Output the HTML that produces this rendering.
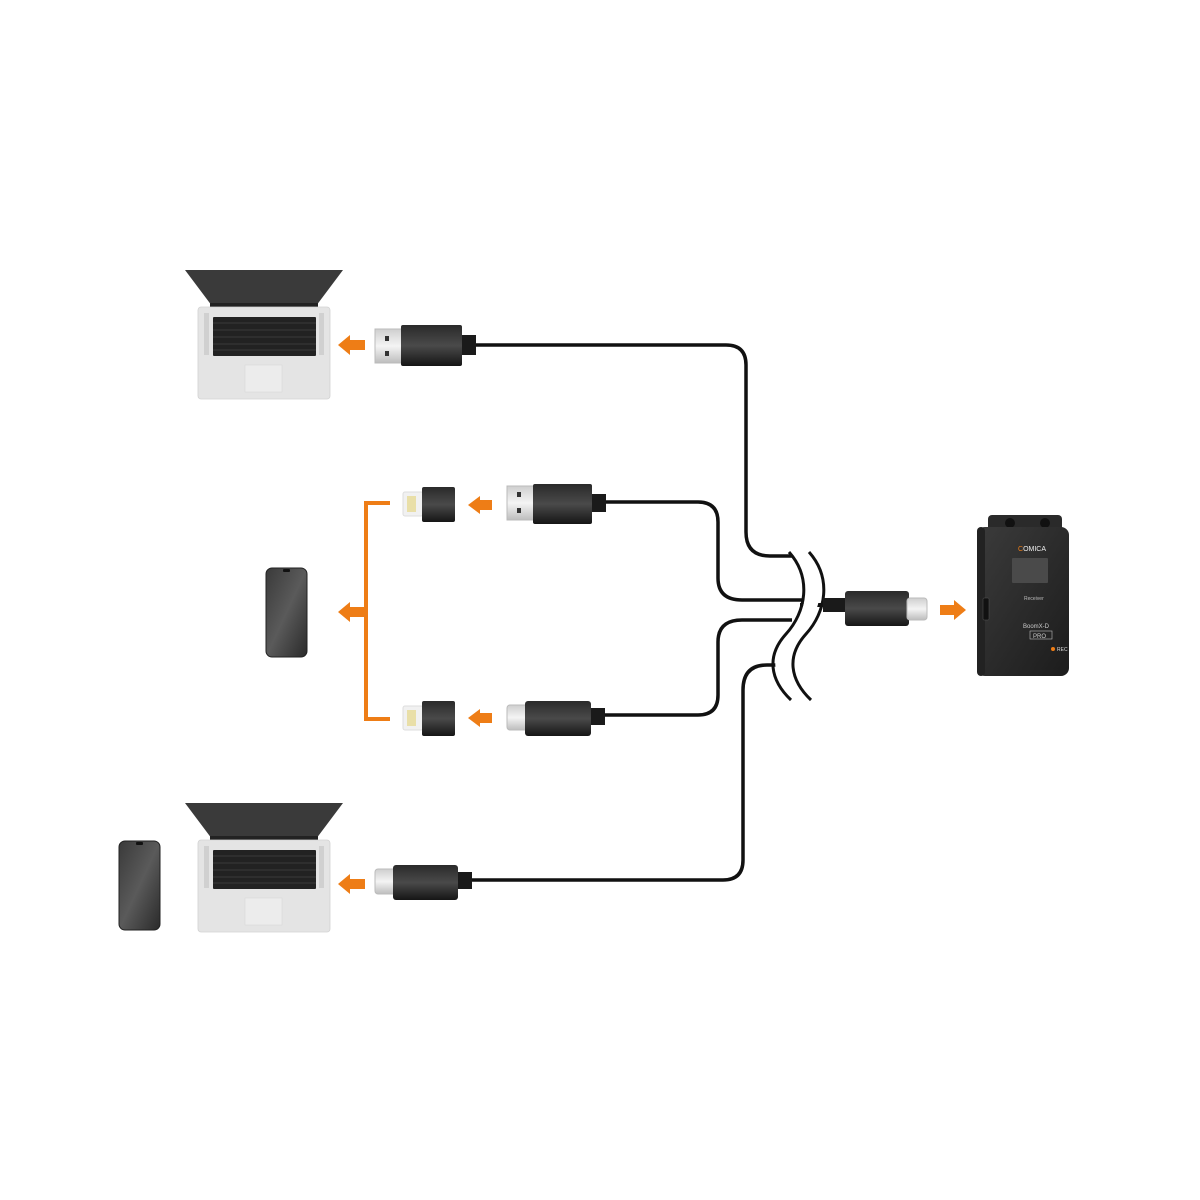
<!DOCTYPE html>
<html><head><meta charset="utf-8"><style>html,body{margin:0;padding:0;background:#fff}svg{display:block}</style></head>
<body>
<svg width="1200" height="1200" viewBox="0 0 1200 1200" xmlns="http://www.w3.org/2000/svg">
<defs>
<linearGradient id="blk" x1="0" y1="0" x2="0" y2="1"><stop offset="0" stop-color="#2a2a2a"/><stop offset=".5" stop-color="#4a4a4a"/><stop offset="1" stop-color="#151515"/></linearGradient>
<linearGradient id="met" x1="0" y1="0" x2="0" y2="1"><stop offset="0" stop-color="#cfcfcf"/><stop offset=".5" stop-color="#f4f4f4"/><stop offset="1" stop-color="#bdbdbd"/></linearGradient>
<linearGradient id="ph" x1="0" y1="0" x2="1" y2="1"><stop offset="0" stop-color="#3a3a3a"/><stop offset=".5" stop-color="#5a5a5a"/><stop offset="1" stop-color="#2a2a2a"/></linearGradient>
<linearGradient id="rcv" x1="0" y1="0" x2="1" y2="1"><stop offset="0" stop-color="#3b3b3b"/><stop offset="1" stop-color="#1c1c1c"/></linearGradient>
<g id="laptop">
  <path d="M185 0 L343 0 L316 36 L212 36 Z" fill="#3a3a3a"/>
  <rect x="210" y="33" width="108" height="4" fill="#222"/>
  <rect x="198" y="37" width="132" height="92" rx="3" fill="#e4e4e4" stroke="#d2d2d2" stroke-width=".8"/>
  <rect x="204" y="43" width="5" height="42" fill="#d0d0d0"/>
  <rect x="319" y="43" width="5" height="42" fill="#d0d0d0"/>
  <rect x="213" y="47" width="103" height="39" rx="1" fill="#222"/>
  <g stroke="#555" stroke-width=".6">
   <line x1="213" y1="53" x2="316" y2="53"/><line x1="213" y1="60" x2="316" y2="60"/><line x1="213" y1="67" x2="316" y2="67"/><line x1="213" y1="74" x2="316" y2="74"/><line x1="213" y1="80" x2="316" y2="80"/>
  </g>
  <rect x="245" y="95" width="37" height="27" fill="#ececec" stroke="#d6d6d6" stroke-width=".5"/>
</g>
<g id="phone">
  <rect x="0" y="0" width="41" height="89" rx="6" fill="url(#ph)" stroke="#222"/>
  <rect x="17" y="1" width="7" height="3" rx="1" fill="#111"/>
</g>
<g id="ltn">
  <rect x="403" y="5" width="20" height="24" rx="2" fill="#f1f1f1" stroke="#ddd"/>
  <rect x="407" y="9" width="9" height="16" fill="#e9dfa8"/>
  <rect x="422" y="0" width="33" height="35" rx="2" fill="url(#blk)"/>
</g>
</defs>

<g fill="none" stroke="#111" stroke-width="3.5">
  <path d="M470 345 H726 Q746 345 746 365 V532 Q746 556 770 556 H792"/>
  <path d="M600 502 H698 Q718 502 718 522 V578 Q718 600 742 600 H802"/>
  <path d="M600 715 H698 Q718 715 718 695 V642 Q718 620 742 620 H792"/>
  <path d="M468 880 H723 Q743 880 743 860 V690 Q743 665 767 665 H780"/>
  <path d="M800 605 H840" stroke-width="4"/>
</g>
<g fill="none" stroke="#fff" stroke-width="14">
  <path d="M799 548 C822 575 815 610 795 632 C775 655 780 680 800 700"/>
</g>
<g fill="none" stroke="#111" stroke-width="3">
  <path d="M789 552 C812 578 806 612 786 634 C766 656 770 680 791 700"/>
  <path d="M809 552 C832 578 826 612 806 634 C786 656 790 680 811 700"/>
</g>

<use href="#laptop" transform="translate(0,270)"/>
<use href="#laptop" transform="translate(0,803)"/>

<use href="#phone" transform="translate(266,568)"/>
<use href="#phone" transform="translate(119,841)"/>

<rect x="375" y="329" width="29" height="34" fill="url(#met)" stroke="#bbb"/>
<rect x="385" y="336" width="4" height="5" fill="#333"/><rect x="385" y="351" width="4" height="5" fill="#333"/>
<rect x="401" y="325" width="61" height="41" rx="2" fill="url(#blk)"/>
<rect x="462" y="335" width="14" height="20" fill="#1a1a1a"/>

<rect x="507" y="486" width="28" height="34" fill="url(#met)" stroke="#bbb"/>
<rect x="517" y="492" width="4" height="5" fill="#333"/><rect x="517" y="508" width="4" height="5" fill="#333"/>
<rect x="533" y="484" width="59" height="40" rx="2" fill="url(#blk)"/>
<rect x="592" y="494" width="14" height="18" fill="#1a1a1a"/>

<rect x="507" y="705" width="22" height="25" rx="3" fill="url(#met)" stroke="#bbb"/>
<rect x="525" y="701" width="66" height="35" rx="3" fill="url(#blk)"/>
<rect x="591" y="708" width="14" height="17" fill="#1a1a1a"/>

<rect x="375" y="869" width="22" height="25" rx="3" fill="url(#met)" stroke="#bbb"/>
<rect x="393" y="865" width="65" height="35" rx="3" fill="url(#blk)"/>
<rect x="458" y="872" width="14" height="17" fill="#1a1a1a"/>

<rect x="823" y="598" width="24" height="14" fill="#1a1a1a"/>
<rect x="845" y="591" width="64" height="35" rx="3" fill="url(#blk)"/>
<rect x="907" y="598" width="20" height="22" rx="3" fill="url(#met)" stroke="#bbb"/>

<use href="#ltn" transform="translate(0,487)"/>
<use href="#ltn" transform="translate(0,701)"/>

<g fill="#ee7d16">
  <path d="M338 345 L350 335 V340 H365 V350 H350 V355 Z"/>
  <path d="M468 505 L480 496 V500 H492 V510 H480 V514 Z"/>
  <path d="M468 718 L480 709 V713 H492 V723 H480 V727 Z"/>
  <path d="M338 612 L350 602 V607 H366 V617 H350 V622 Z"/>
  <path d="M338 884 L350 874 V879 H365 V889 H350 V894 Z"/>
  <path d="M966 610 L954 600 V605 H940 V615 H954 V620 Z"/>
</g>
<path d="M390 503 H366 V719 H390" fill="none" stroke="#ee7d16" stroke-width="4"/>

<rect x="988" y="515" width="74" height="16" rx="4" fill="#2a2a2a"/>
<circle cx="1010" cy="523" r="5" fill="#111"/><circle cx="1045" cy="523" r="5" fill="#111"/>
<rect x="977" y="527" width="92" height="149" rx="8" fill="url(#rcv)"/>
<rect x="977" y="527" width="8" height="149" rx="4" fill="#222"/>
<rect x="983" y="598" width="6" height="22" rx="1" fill="#111" stroke="#555" stroke-width=".5"/>
<rect x="1012" y="558" width="36" height="25" rx="1" fill="#4a4a4a"/>
<text x="1018" y="551" font-family="Liberation Sans, sans-serif" font-size="7" fill="#eee"><tspan fill="#ee7d16">C</tspan>OMICA</text>
<text x="1024" y="600" font-family="Liberation Sans, sans-serif" font-size="5" fill="#bbb">Receiver</text>
<text x="1023" y="628" font-family="Liberation Sans, sans-serif" font-size="6" fill="#ccc">BoomX-D</text>
<rect x="1030" y="631" width="22" height="8" fill="none" stroke="#bbb" stroke-width=".6"/>
<text x="1033" y="638" font-family="Liberation Sans, sans-serif" font-size="6" fill="#ccc">PRO</text>
<circle cx="1053" cy="649" r="2" fill="#ee7d16"/>
<text x="1057" y="651" font-family="Liberation Sans, sans-serif" font-size="5" fill="#ddd">REC</text>
</svg>
</body></html>
